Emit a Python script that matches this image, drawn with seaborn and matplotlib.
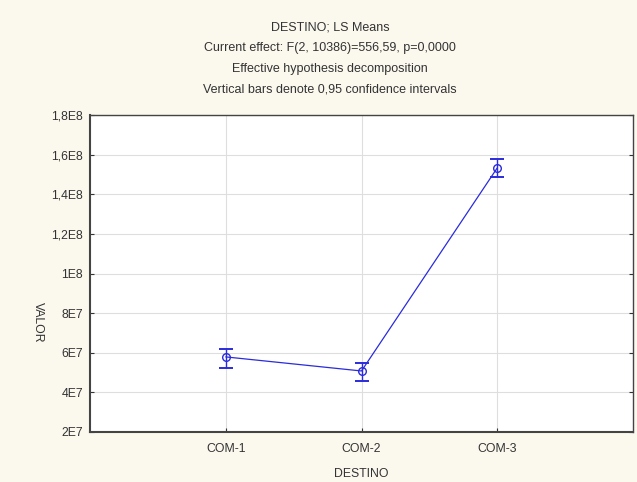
import numpy as np
import pandas as pd
import matplotlib
matplotlib.use("Agg")
import matplotlib.pyplot as plt
import seaborn as sns

# values
destino = ["COM-1", "COM-2", "COM-3"]
valor = [5.79e7, 5.08e7, 1.533e8]
ci_low = [5.23e7, 4.58e7, 1.488e8]
ci_high = [6.19e7, 5.48e7, 1.58e8]

y_ticks = [2e7, 4e7, 6e7, 8e7, 1e8, 1.2e8, 1.4e8, 1.6e8, 1.8e8]
y_labels = ["2E7", "4E7", "6E7", "8E7", "1E8", "1,2E8", "1,4E8", "1,6E8", "1,8E8"]

titles = ["DESTINO; LS Means",
          "Current effect: F(2, 10386)=556,59, p=0,0000",
          "Effective hypothesis decomposition",
          "Vertical bars denote 0,95 confidence intervals"]

sns.set_style("whitegrid")
plt.rcParams['font.family'] = ['Liberation Sans', 'DejaVu Sans']

bg = "#fbf8ee"
blue = "#2b2bdc"
txt = "#333333"

fig = plt.figure(figsize=(6.37, 4.82), dpi=100, facecolor=bg)
ax = fig.add_axes([90 / 637, 1 - 432 / 482, 543 / 637, 317 / 482])
ax.set_facecolor("white")

df = pd.DataFrame({"x": np.arange(len(destino)), "VALOR": valor})
sns.lineplot(data=df, x="x", y="VALOR", ax=ax, color=blue, lw=0.9,
             marker="o", markersize=5.5, markerfacecolor="none",
             markeredgecolor=blue, markeredgewidth=1.0)

err = np.array([np.array(valor) - np.array(ci_low), np.array(ci_high) - np.array(valor)])
ax.errorbar(df["x"], df["VALOR"], yerr=err, fmt="none", ecolor=blue,
            elinewidth=1.0, capsize=5, capthick=1.4)

ax.set_xlim(-1, 3)
ax.set_ylim(2e7, 1.8e8)
ax.set_xticks(np.arange(len(destino)))
ax.set_xticklabels(destino)
ax.set_yticks(y_ticks)
ax.set_yticklabels(y_labels)

ax.grid(True, color="#dedede", lw=0.8)
for s in ax.spines.values():
    s.set_visible(True)
    s.set_color("#444444")
    s.set_linewidth(1.0)
ax.spines["left"].set_linewidth(1.5)
ax.spines["bottom"].set_linewidth(1.5)

ax.tick_params(axis="both", labelsize=8.8, colors=txt, direction="in",
               length=3, width=0.8, pad=5, right=True, bottom=True, left=True)
ax.tick_params(axis="x", pad=8)

ax.set_xlabel("DESTINO", fontsize=8.8, color=txt, labelpad=9)
ax.set_ylabel("VALOR", fontsize=8.8, color=txt, rotation=-90, va="center")
ax.yaxis.set_label_coords(-52 / 543, (432 - 322) / 317)

ys = [28, 48, 69, 90]
for t, y in zip(titles, ys):
    fig.text(330 / 637, 1 - y / 482, t, ha="center", va="center",
             fontsize=9, color=txt)

fig.savefig("out.png", dpi=100, facecolor=bg)
